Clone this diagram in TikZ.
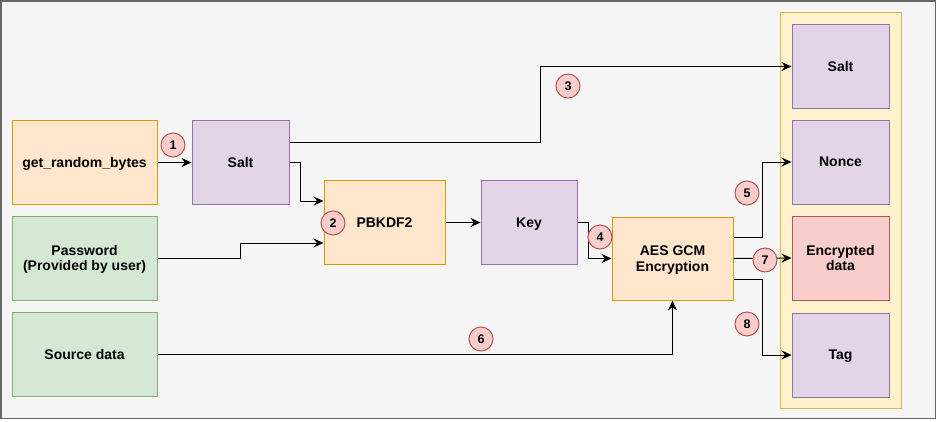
\documentclass[tikz,border=0pt]{standalone}
\usepackage{fontspec}
\setmainfont{Liberation Sans}
\usetikzlibrary{arrows.meta,calc}
\definecolor{bgc}{HTML}{F5F5F5}
\definecolor{bdc}{HTML}{666666}
\definecolor{orF}{HTML}{FFE6CC}\definecolor{orS}{HTML}{D79B00}
\definecolor{puF}{HTML}{E1D5E7}\definecolor{puS}{HTML}{9673A6}
\definecolor{grF}{HTML}{D5E8D4}\definecolor{grS}{HTML}{82B366}
\definecolor{reF}{HTML}{F8CECC}\definecolor{reS}{HTML}{B85450}
\definecolor{yeF}{HTML}{FFF2CC}\definecolor{yeS}{HTML}{D6B656}
\tikzset{
  box/.style={draw, line width=1pt, minimum height=84pt, align=center,
    font=\fontsize{14}{15.5}\selectfont\bfseries, inner sep=0pt, text depth=0pt},
  orbox/.style={box, fill=orF, draw=orS},
  pubox/.style={box, fill=puF, draw=puS},
  grbox/.style={box, fill=grF, draw=grS},
  rebox/.style={box, fill=reF, draw=reS},
  badge/.style={circle, draw=reS, fill=reF, line width=1pt, minimum size=24pt, inner sep=0pt,
    font=\fontsize{12.5}{12.5}\selectfont\bfseries},
  arr/.style={line width=1pt, -{Stealth[length=10pt,width=9pt,inset=3.5pt]}}
}
\begin{document}
\begin{tikzpicture}[x=1pt,y=-1pt]
\useasboundingbox (0,0) rectangle (937,421);
\fill[white] (0,0) rectangle (937,421);
\draw[bdc, fill=bgc, line width=1.5pt] (0.75,0.75) rectangle (935.5,418.5);
% container
\node[draw=yeS, fill=yeF, line width=1pt, minimum width=121pt, minimum height=396pt, inner sep=0pt] (cont) at (840.5,210) {};
% boxes
\node[orbox, minimum width=145pt] (rnd) at (84.5,162.5) {get\_random\_bytes};
\node[pubox, minimum width=97pt] (salt) at (240.5,162.5) {Salt};
\node[grbox, minimum width=145pt] (pw) at (84.5,258) {Password\\(Provided by user)};
\node[grbox, minimum width=145pt] (src) at (84.5,354) {Source data};
\node[orbox, minimum width=121pt] (pbk) at (384.5,222.5) {PBKDF2};
\node[pubox, minimum width=96pt] (key) at (529,222.5) {Key};
\node[orbox, minimum width=121pt, minimum height=83pt] (aes) at (672.5,258.5) {AES GCM\\Encryption};
\node[pubox, minimum width=97pt] (salt2) at (840.5,66.5) {Salt};
\node[pubox, minimum width=97pt] (nonce) at (840.5,162) {Nonce};
\node[rebox, minimum width=97pt] (enc) at (840.5,258) {Encrypted\\data};
\node[pubox, minimum width=97pt] (tag) at (840.5,355) {Tag};
% connectors
\draw[arr] (rnd.east) -- (salt.west);
\draw[arr] ($(salt.east)+(0,-20.5)$) -- (540,142) |- (salt2.west);
\draw[arr] (salt.east) -- (300.5,162.5) |- ($(pbk.west)+(0,-21.5)$);
\draw[arr] (pw.east) -- (240,258) |- ($(pbk.west)+(0,20.5)$);
\draw[arr] (pbk.east) -- (key.west);
\draw[arr] (key.east) -- (588,222.5) |- (aes.west);
\draw[arr] (src.east) -| (aes.south);
\draw[arr] ($(aes.east)+(0,-21)$) -- (762,237.5) |- (nonce.west);
\draw[arr] (aes.east) -- (enc.west);
\draw[arr] ($(aes.east)+(0,21)$) -- (762,279.5) |- (tag.west);
% badges
\node[badge] (b1) at (173,145) {1};
\node[badge] (b2) at (333,223) {2};
\node[badge] (b3) at (568,86) {3};
\node[badge] (b4) at (600,237) {4};
\node[badge] (b5) at (747,193) {5};
\node[badge] (b6) at (481,339) {6};
\node[badge] (b7) at (765,260) {7};
\node[badge] (b8) at (747,324) {8};
\end{tikzpicture}
\end{document}
